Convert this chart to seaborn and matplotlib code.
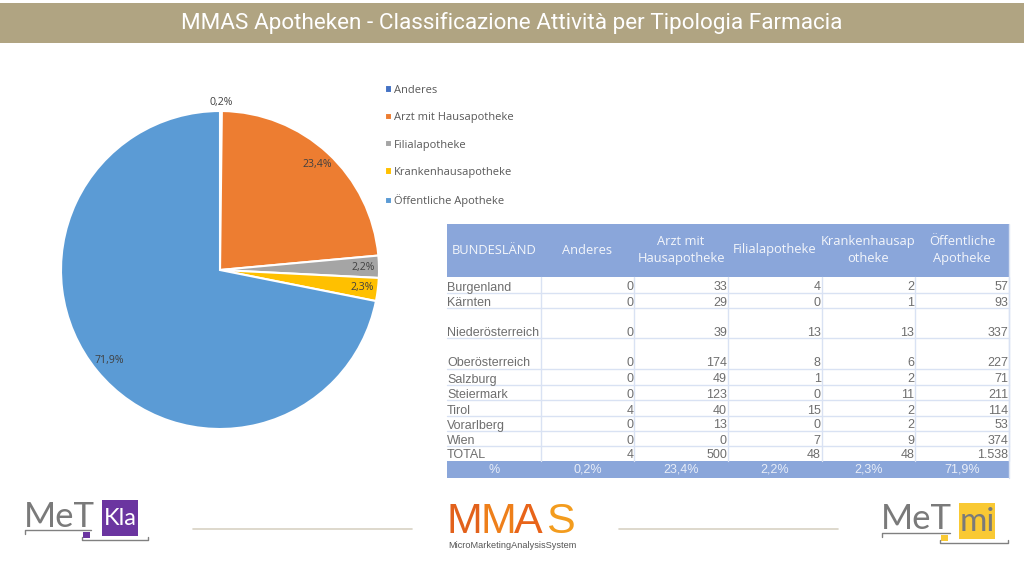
import matplotlib
matplotlib.use("Agg")
import matplotlib.pyplot as plt
from matplotlib.patches import Rectangle
import seaborn as sns

sns.set_theme(style="white")
plt.rcParams['font.family'] = ['Open Sans', 'DejaVu Sans']

TITLE = "MMAS Apotheken - Classificazione Attività per Tipologia Farmacia"
categories = ["Anderes", "Arzt mit Hausapotheke", "Filialapotheke", "Krankenhausapotheke", "Öffentliche Apotheke"]
pie_values = [4, 500, 48, 50, 1538]
pie_labels = ["0,2%", "23,4%", "2,2%", "2,3%", "71,9%"]
pie_colors = ["#4472C4", "#ED7D31", "#A5A5A5", "#FFC000", "#5B9BD5"]

headers = ["BUNDESLÄND", "Anderes", "Arzt mit\nHausapotheke", "Filialapotheke", "Krankenhausap\notheke", "Öffentliche\nApotheke"]
regions = ["Burgenland", "Kärnten", "Niederösterreich", "Oberösterreich", "Salzburg", "Steiermark", "Tirol", "Vorarlberg", "Wien", "TOTAL"]
anderes = ["0", "0", "0", "0", "0", "0", "4", "0", "0", "4"]
arzt = ["33", "29", "39", "174", "49", "123", "40", "13", "0", "500"]
filial = ["4", "0", "13", "8", "1", "0", "15", "0", "7", "48"]
kranken = ["2", "1", "13", "6", "2", "11", "2", "2", "9", "48"]
oeffentlich = ["57", "93", "337", "227", "71", "211", "114", "53", "374", "1.538"]
percent_row = ["%", "0,2%", "23,4%", "2,2%", "2,3%", "71,9%"]

W, H = 1024, 576
fig = plt.figure(figsize=(W / 100, H / 100), dpi=100, facecolor="white")

# pixel overlay
ov = fig.add_axes([0, 0, 1, 1])
ov.set_xlim(0, W); ov.set_ylim(H, 0); ov.axis("off")

# title bar
ov.add_patch(Rectangle((0, 3), W, 40, fc="#B0A482", ec="none"))
ov.text(512, 23, TITLE, color="white", ha="center", va="center", fontsize=16.2, family="Roboto")

# pie
cx, cy, R, pad = 220, 270, 159, 1.25
side = 2 * R * pad
ax = fig.add_axes([(cx - side / 2) / W, 1 - (cy + side / 2) / H, side / W, side / H])
palette = sns.color_palette(pie_colors)
labels_iter = iter(pie_labels)
wedges, _, autotexts = ax.pie(pie_values, colors=palette, startangle=90, counterclock=False,
                              autopct=lambda p: next(labels_iter), pctdistance=0.9,
                              wedgeprops=dict(edgecolor="white", linewidth=1.5),
                              textprops=dict(fontsize=7.6, color="#404040"))
x0, y0 = autotexts[0].get_position()
autotexts[0].set_position((x0 * 1.17, y0 * 1.17))
ax.set_xlim(-pad, pad); ax.set_ylim(-pad, pad)

# legend
leg = fig.legend(wedges, categories, loc="upper left", bbox_to_anchor=(376 / W, 1 - 76 / H),
                 frameon=False, fontsize=8, labelcolor="#595959", handlelength=0.6, handleheight=0.6,
                 handletextpad=0.2, labelspacing=1.47, borderpad=0.3)

# table
X = [447 + i * (1009 - 447) / 6 for i in range(7)]
Y = [277, 293, 308, 338, 369, 385, 400, 416, 431, 446, 461]
HDR = "#8AA6DA"
GRID = "#D9E2F3"
ov.add_patch(Rectangle((X[0], 224), X[-1] - X[0], Y[0] - 224, fc=HDR, ec="none"))
ov.add_patch(Rectangle((X[0], Y[-1]), X[-1] - X[0], 478 - Y[-1], fc=HDR, ec="none"))
for y in Y[1:-1]:
    ov.plot([X[0], X[-1]], [y, y], color=GRID, lw=1)
for x in X[1:]:
    ov.plot([x, x], [Y[0], Y[-1]], color=GRID, lw=1)
ov.plot([X[-1], X[-1]], [224, 478], color=GRID, lw=1)
for i, h in enumerate(headers):
    ov.text((X[i] + X[i + 1]) / 2, 250, h, ha="center", va="center", fontsize=9.3, color="#F4F6FB", linespacing=1.45)
columns = [anderes, arzt, filial, kranken, oeffentlich]
for r, name in enumerate(regions):
    yb = Y[r + 1] - 2.5
    ov.text(X[0], yb, name, ha="left", va="baseline", fontsize=9.0, color="#6E6E6E", family="Liberation Sans")
    for c, col in enumerate(columns):
        ov.text(X[c + 2] - 1, yb, col[r], ha="right", va="baseline", fontsize=9.0, color="#6E6E6E", family="Liberation Sans")
for i, p in enumerate(percent_row):
    ov.text((X[i] + X[i + 1]) / 2, 470, p, ha="center", va="center",
            fontsize=9.0, color="#E8EDF7", family="Liberation Sans")

# separators
for a, b in [(193, 412), (619, 838)]:
    ov.plot([a, b], [529, 529], color="#D8D2C4", lw=1.2)

# logos
def met(x, y):
    ov.text(x, y, "MeT", fontsize=25, color="#7A7A7A", ha="left", va="baseline", family="Lato")

met(24, 527)
ov.plot([25, 25, 91], [534, 530, 530], color="#808080", lw=1)
ov.plot([82, 82, 148, 148], [537, 540, 540, 537], color="#808080", lw=1)
ov.add_patch(Rectangle((83, 532), 7, 6, fc="#6B35A0", ec="none"))
ov.add_patch(Rectangle((102, 500), 36, 36, fc="#6B35A0", ec="none"))
ov.text(120, 518.5, "Kla", fontsize=17, color="white", ha="center", va="center", family="Lato")

logo_letters = ["M", "M", "A", "S"]
logo_colors = ["#E2611B", "#EE7F1A", "#E8641A", "#F39C1E"]
logo_x = [447, 481, 514, 546]
for ch, c, x in zip(logo_letters, logo_colors, logo_x):
    ov.text(x, 533, ch, fontsize=31, color=c, ha="left", va="baseline", family="Liberation Sans")
ov.text(512, 546, "MicroMarketingAnalysisSystem", fontsize=6.6, color="#555555", ha="center", va="center",
        family="Liberation Sans")

met(881, 529)
ov.plot([882, 882, 950], [537, 533, 533], color="#808080", lw=1)
ov.plot([940, 940, 1008, 1008], [540, 543, 543, 540], color="#808080", lw=1)
ov.add_patch(Rectangle((941, 535), 7, 6, fc="#F9C934", ec="none"))
ov.add_patch(Rectangle((959, 503), 36, 36, fc="#F9C934", ec="none"))
ov.text(977, 522, "mi", fontsize=24, color="#7A7A7A", ha="center", va="center", family="Lato")

fig.savefig("out.png", dpi=100)
